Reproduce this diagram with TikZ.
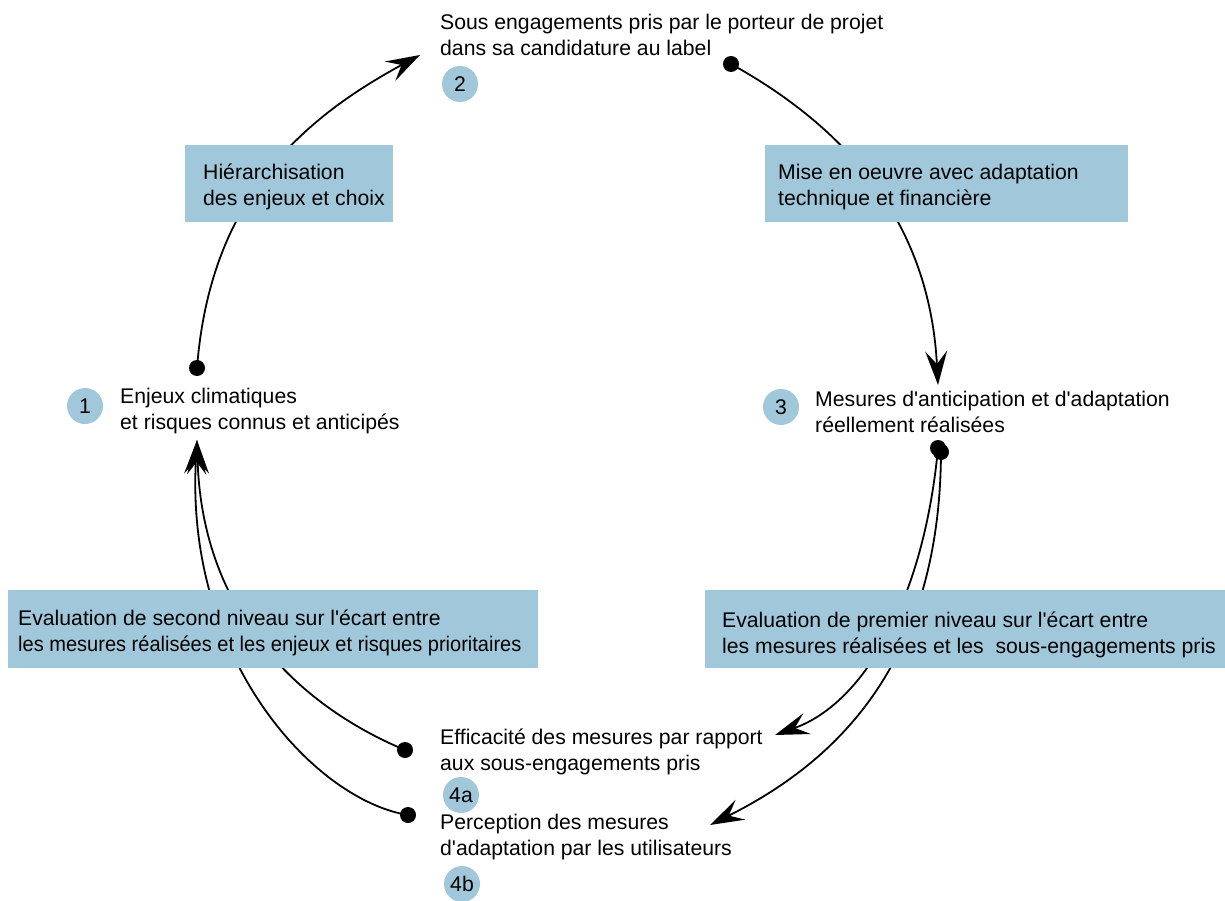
\documentclass[tikz,border=0pt]{standalone}
\usepackage{fontspec}
\usepackage{graphicx}
\setmainfont{Liberation Sans}
\usetikzlibrary{arrows.meta}
\definecolor{boxblue}{HTML}{A0C8DA}
\newcommand{\q}{\textquotesingle}
\begin{document}
\begin{tikzpicture}[x=1pt,y=-1pt,
  txt/.style={font=\fontsize{21.2}{26}\selectfont},
  lbl/.style={txt, anchor=west, align=left, inner sep=0pt},
  num/.style={txt, circle, fill=boxblue, minimum size=36pt, inner sep=0pt},
  boxbg/.style={fill=boxblue, anchor=north west, inner sep=0pt},
  dot/.style={circle, fill=black, minimum size=16pt, inner sep=0pt},
  conn/.style={line width=1.8pt, -{Stealth[length=34pt,width=22pt,inset=13pt]}}
]
\useasboundingbox (0,0) rectangle (1225,901);

% texts
\node[lbl] (t2) at (440,35) {Sous engagements pris par le porteur de projet\\dans sa candidature au label};
\node[lbl] (t1) at (120,411) {Enjeux climatiques\\et risques connus et anticip\'es};
\node[lbl] (t3) at (815,412) {Mesures d\q anticipation et d\q adaptation\\r\'eellement r\'ealis\'ees};
\node[lbl] (t4a) at (440,752) {Efficacit\'e des mesures par rapport\\aux sous-engagements pris};
\node[lbl] (t4b) at (440,837) {Perception des mesures\\d\q adaptation par les utilisateurs};

% numbers
\node[num] (n2) at (460,84) {2};
\node[num] (n1) at (85,406) {1};
\node[num] (n3) at (781,407) {3};
\node[num] (n4a) at (461,795) {4a};
\node[num] (n4b) at (462,884) {4b};

% dots and tips
\node[dot] (d1) at (197,368) {};
\node[dot] (d2) at (731,64) {};
\node[dot] (d3) at (938,448) {};
\node[dot] (d3b) at (941,452) {};
\node[dot] (d4a) at (405,750) {};
\node[dot] (d4b) at (408,815) {};
\coordinate (a2) at (420,55);
\coordinate (a3) at (938,385);
\coordinate (a1) at (197,440);
\coordinate (a4a) at (775,735);
\coordinate (a4b) at (710,825);

% connectors
\draw[conn] (d1.center) .. controls (210,200) and (300,120) .. (a2);
\draw[conn] (d2.center) .. controls (861,136) and (930,235) .. (a3);
\draw[conn] (d3.center) .. controls (924,598) and (865,703) .. (a4a);
\draw[conn] (d3b.center) .. controls (940,660) and (840,760) .. (a4b);
\draw[conn] (d4a.center) .. controls (295,704) and (202,610) .. (a1);
\draw[conn] (d4b.center) .. controls (315,800) and (185,660) .. (a1);

% boxes on top
\node[boxbg, minimum width=208pt, minimum height=77pt] (b1) at (185,145) {};
\node[lbl] (b1t) at ([xshift=18pt,yshift=-3pt]b1.west) {Hi\'erarchisation\\des enjeux et choix};
\node[boxbg, minimum width=363pt, minimum height=77pt] (b2) at (765,145) {};
\node[lbl] (b2t) at ([xshift=13pt,yshift=-3pt]b2.west) {Mise en oeuvre avec adaptation\\technique et financi\`ere};
\node[boxbg, minimum width=530pt, minimum height=78pt] (b3) at (8,590) {};
\node[lbl] (b3t) at ([xshift=10pt,yshift=-4pt]b3.west) {Evaluation de second niveau sur l\q\'ecart entre\\\scalebox{0.945}[1]{les mesures r\'ealis\'ees et les enjeux et risques prioritaires}};
\node[boxbg, minimum width=520pt, minimum height=78pt] (b4) at (705,590) {};
\node[lbl] (b4t) at ([xshift=17pt,yshift=-6pt]b4.west) {Evaluation de premier niveau sur l\q\'ecart entre\\les mesures r\'ealis\'ees et les\ \ sous-engagements pris};
\end{tikzpicture}
\end{document}
